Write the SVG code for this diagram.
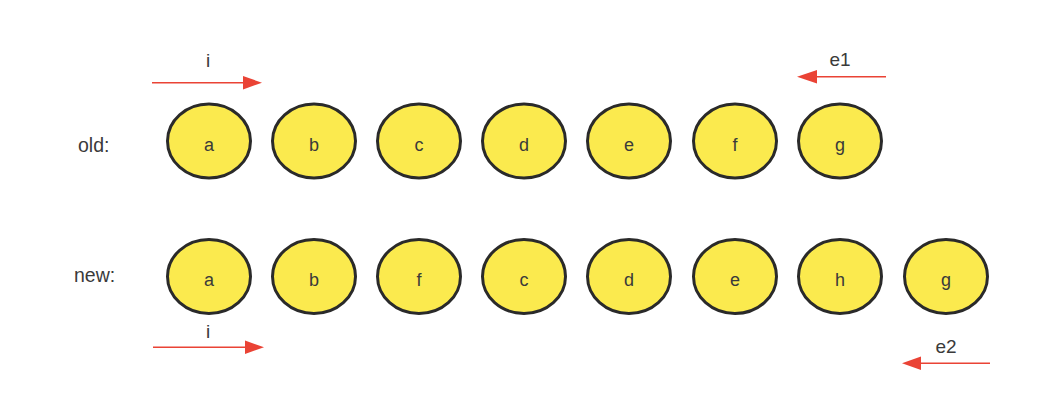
<svg xmlns="http://www.w3.org/2000/svg" width="1064" height="401" viewBox="0 0 1064 401">
<defs>
<style>
.n ellipse{fill:#fbea4e;stroke:#2a2a2a;stroke-width:3}
text{font-family:"Liberation Sans",Arial,sans-serif;font-size:18px;fill:#3a3a3a}
.n text{text-anchor:middle}
.side{font-size:19.5px}
.lbl{text-anchor:middle;font-size:19px}
.arr{stroke:#ea4335;stroke-width:1.6;fill:none}
.head{fill:#ea4335}
</style>
</defs>
<rect width="1064" height="401" fill="#fff"/>
<text class="side" x="78" y="151.5">old:</text>
<text class="side" x="74" y="281.5">new:</text>
<g id="old-a" class="n"><ellipse cx="209" cy="141" rx="41.5" ry="37"/><text x="209" y="150.5">a</text></g>
<g id="old-b" class="n"><ellipse cx="314" cy="141" rx="41.5" ry="37"/><text x="314" y="150.5">b</text></g>
<g id="old-c" class="n"><ellipse cx="419" cy="141" rx="41.5" ry="37"/><text x="419" y="150.5">c</text></g>
<g id="old-d" class="n"><ellipse cx="524" cy="141" rx="41.5" ry="37"/><text x="524" y="150.5">d</text></g>
<g id="old-e" class="n"><ellipse cx="629" cy="141" rx="41.5" ry="37"/><text x="629" y="150.5">e</text></g>
<g id="old-f" class="n"><ellipse cx="735" cy="141" rx="41.5" ry="37"/><text x="735" y="150.5">f</text></g>
<g id="old-g" class="n"><ellipse cx="840" cy="141" rx="41.5" ry="37"/><text x="840" y="150.5">g</text></g>
<g id="new-a" class="n"><ellipse cx="209" cy="276.5" rx="41.5" ry="37"/><text x="209" y="286">a</text></g>
<g id="new-b" class="n"><ellipse cx="314" cy="276.5" rx="41.5" ry="37"/><text x="314" y="286">b</text></g>
<g id="new-f" class="n"><ellipse cx="419" cy="276.5" rx="41.5" ry="37"/><text x="419" y="286">f</text></g>
<g id="new-c" class="n"><ellipse cx="524" cy="276.5" rx="41.5" ry="37"/><text x="524" y="286">c</text></g>
<g id="new-d" class="n"><ellipse cx="629" cy="276.5" rx="41.5" ry="37"/><text x="629" y="286">d</text></g>
<g id="new-e" class="n"><ellipse cx="735" cy="276.5" rx="41.5" ry="37"/><text x="735" y="286">e</text></g>
<g id="new-h" class="n"><ellipse cx="840" cy="276.5" rx="41.5" ry="37"/><text x="840" y="286">h</text></g>
<g id="new-g" class="n"><ellipse cx="946" cy="276.5" rx="41.5" ry="37"/><text x="946" y="286">g</text></g>
<g id="connectors">
<line class="arr" x1="152" y1="82.7" x2="245" y2="82.7"/>
<polygon class="head" points="262,82.7 243,76 243,89.4"/>
<line class="arr" x1="886" y1="76.7" x2="815" y2="76.7"/>
<polygon class="head" points="797,76.7 817,70 817,83.4"/>
<line class="arr" x1="153" y1="347.3" x2="247" y2="347.3"/>
<polygon class="head" points="264,347.3 245,340.6 245,354"/>
<line class="arr" x1="990" y1="363.3" x2="920" y2="363.3"/>
<polygon class="head" points="902,363.3 921,356.6 921,370"/>
</g>
<text class="lbl" x="208" y="67">i</text>
<text class="lbl" x="840" y="66">e1</text>
<text class="lbl" x="208" y="338">i</text>
<text class="lbl" x="946" y="353">e2</text>
</svg>
